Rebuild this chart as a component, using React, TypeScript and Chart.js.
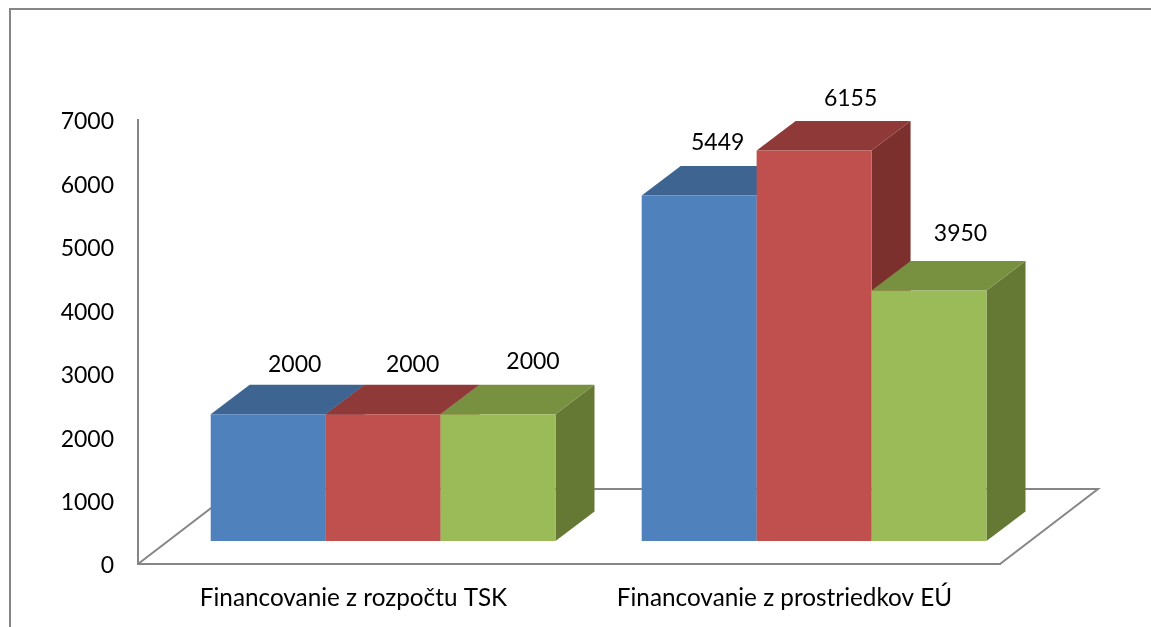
import React, { useEffect, useRef } from "react";
import { Chart, registerables } from "chart.js";

Chart.register(...registerables);

const categories = ["Financovanie z rozpočtu TSK", "Financovanie z prostriedkov EÚ"];
const seriesBlue = [2000, 5449];
const seriesRed = [2000, 6155];
const seriesGreen = [2000, 3950];
const yTicks = [0, 1000, 2000, 3000, 4000, 5000, 6000, 7000];

const FONT = "Lato, sans-serif";
const FONT_SIZE = 23;
const CATEGORY_FONT_SIZE = 24.3;
const AXIS = "#868686";

const frontColors = ["#4F81BD", "#C0504D", "#9BBB59"];
const topColors = ["#3E6491", "#8F3A38", "#789141"];
const sideColors = ["#3A5E88", "#7B302E", "#657934"];

// where the front plane of the bars sits relative to the axes' plane
const PLANE_DX = 29.6;
const PLANE_DY = -23;
// bar depth
const DEPTH_DX = 39;
const DEPTH_DY = -29.5;
// floor depth
const FLOOR_DX = 98;
const FLOOR_DY = -75;
// hand-placed value labels: [dx from bar centre, dy from bar top], by series then category
const labelNudges = [
  [[26.5, -49.5], [18.5, -52.5]],
  [[29.5, -49.5], [36.5, -52.5]],
  [[35, -52.5], [31.5, -56.5]],
];

function poly(ctx: CanvasRenderingContext2D, pts: number[][], fill: string) {
  ctx.beginPath();
  pts.forEach((p, i) => (i ? ctx.lineTo(p[0], p[1]) : ctx.moveTo(p[0], p[1])));
  ctx.closePath();
  ctx.fillStyle = fill;
  ctx.fill();
}

const box3d = {
  id: "box3d",
  beforeDraw(chart: any) {
    const { ctx } = chart;
    ctx.save();
    // outer frame: only the top and left edges are in view
    ctx.strokeStyle = AXIS;
    ctx.lineWidth = 2;
    ctx.beginPath();
    ctx.moveTo(10, chart.height);
    ctx.lineTo(10, 9);
    ctx.lineTo(chart.width, 9);
    ctx.stroke();
    ctx.restore();
  },
  beforeDatasetsDraw(chart: any) {
    const { ctx, chartArea: a } = chart;
    ctx.save();
    ctx.strokeStyle = AXIS;
    ctx.lineWidth = 2;
    ctx.lineJoin = "miter";
    ctx.beginPath();
    ctx.moveTo(a.left, a.bottom);
    ctx.lineTo(a.left + FLOOR_DX, a.bottom + FLOOR_DY);
    ctx.lineTo(a.right + FLOOR_DX, a.bottom + FLOOR_DY);
    ctx.lineTo(a.right, a.bottom);
    ctx.stroke();
    ctx.restore();
  },
  beforeDatasetDraw() {
    return false;
  },
  afterDatasetsDraw(chart: any) {
    const { ctx } = chart;
    ctx.save();
    ctx.translate(PLANE_DX, PLANE_DY);
    chart.data.datasets.forEach((_: any, i: number) => {
      chart.getDatasetMeta(i).data.forEach((el: any) => {
        const l = el.x - el.width / 2;
        const r = el.x + el.width / 2;
        const t = el.y;
        const b = el.base;
        poly(ctx, [[r, t], [r + DEPTH_DX, t + DEPTH_DY], [r + DEPTH_DX, b + DEPTH_DY], [r, b]], sideColors[i]);
        poly(ctx, [[l, t], [l + DEPTH_DX, t + DEPTH_DY], [r + DEPTH_DX, t + DEPTH_DY], [r, t]], topColors[i]);
        el.draw(ctx);
      });
    });
    ctx.restore();

    ctx.save();
    ctx.font = `${FONT_SIZE}px ${FONT}`;
    ctx.fillStyle = "#000";
    ctx.textAlign = "center";
    ctx.textBaseline = "middle";
    chart.data.datasets.forEach((ds: any, i: number) => {
      chart.getDatasetMeta(i).data.forEach((el: any, j: number) => {
        const [nx, ny] = labelNudges[i][j];
        ctx.fillText(String(ds.data[j]), el.x + PLANE_DX + nx, el.y + PLANE_DY + ny);
      });
    });
    ctx.restore();
  },
};

export default function App() {
  const ref = useRef<HTMLCanvasElement>(null);
  useEffect(() => {
    const chart = new Chart(ref.current as HTMLCanvasElement, {
      type: "bar",
      data: {
        labels: categories,
        datasets: [
          { label: "A", data: seriesBlue, backgroundColor: frontColors[0] },
          { label: "B", data: seriesRed, backgroundColor: frontColors[1] },
          { label: "C", data: seriesGreen, backgroundColor: frontColors[2] },
        ],
      },
      plugins: [box3d],
      options: {
        responsive: false,
        animation: false,
        layout: { padding: { top: 120, right: 151, left: 0, bottom: 0 } },
        datasets: { bar: { categoryPercentage: 0.8, barPercentage: 1, borderWidth: 0 } },
        plugins: { legend: { display: false }, tooltip: { enabled: false }, title: { display: false } },
        scales: {
          x: {
            grid: { display: false, drawTicks: false },
            border: { display: true, color: AXIS, width: 2 },
            ticks: { color: "#000", font: { family: FONT, size: CATEGORY_FONT_SIZE }, padding: 20, maxRotation: 0, autoSkip: false },
            afterFit: (s: any) => { s.height = 63; },
          },
          y: {
            min: yTicks[0],
            max: yTicks[yTicks.length - 1],
            grid: { display: false, drawTicks: false },
            border: { display: true, color: AXIS, width: 2 },
            ticks: {
              stepSize: 1000,
              color: "#000",
              font: { family: FONT, size: FONT_SIZE },
              padding: 24,
              labelOffset: 2,
              callback: (v: any) => String(v),
            },
            afterFit: (s: any) => { s.width = 138; },
          },
        },
      } as any,
    });
    return () => chart.destroy();
  }, []);
  return (
    <canvas
      ref={ref}
      width={1151}
      height={627}
      style={{ position: "fixed", left: 0, top: 0, width: 1151, height: 627, background: "#fff" }}
    />
  );
}
